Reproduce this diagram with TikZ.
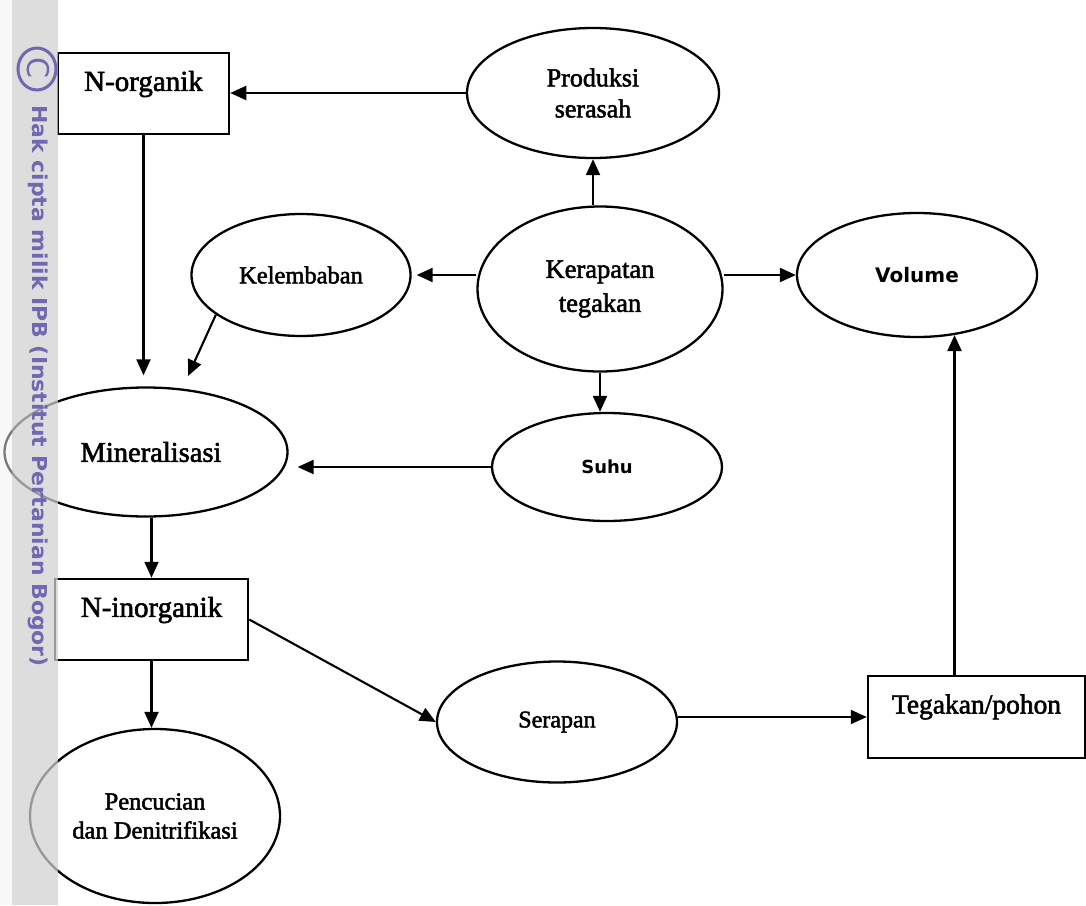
\documentclass[tikz,border=0pt]{standalone}
\usepackage{fontspec}
\usepackage{graphicx}
\setmainfont{Liberation Serif}
\newfontfamily\heavy{Liberation Serif}[FakeBold=2]
\newfontfamily\sansf{DejaVu Sans}
\definecolor{wm}{RGB}{112,104,178}
\usetikzlibrary{arrows.meta,shapes.geometric}
\newcommand\fsz[2]{\fontsize{#1pt}{#2pt}\selectfont}
\begin{document}
\begin{tikzpicture}[x=1pt,y=-1pt,
  ell/.style={draw, ellipse, line width=2.3pt, inner sep=0pt, align=center},
  boxst/.style={draw, rectangle, line width=2.5pt, inner sep=0pt},
  arr/.style={line width=2.1pt, -{Triangle[length=16pt,width=14pt]}},
  ]
\useasboundingbox (0,0) rectangle (1086,905);
\fill[white] (0,0) rectangle (1086,905);

% boxes
\node[boxst, minimum width=171pt, minimum height=81pt,
  label={[font=\heavy\fsz{29}{32}, yshift=9.5pt]center:N-organik}] (norg) at (143.5,93.5) {};
\node[boxst, minimum width=193pt, minimum height=81pt,
  label={[font=\heavy\fsz{29}{32}, yshift=9.5pt]center:N-inorganik}] (ninorg) at (151.5,619.5) {};
\node[boxst, minimum width=217pt, minimum height=82pt,
  label={[font=\heavy\fsz{27.5}{30}, yshift=10pt]center:Tegakan/pohon}] (teg) at (976.5,717) {};

% ellipses
\node[ell, minimum width=252pt, minimum height=130pt, font=\heavy\fsz{26}{31}] (prod) at (593,93) {Produksi\\serasah};
\node[ell, minimum width=245pt, minimum height=165pt, font=\heavy\fsz{26.5}{34}] (kerap) at (600,289) {Kerapatan\\tegakan};
\node[ell, minimum width=219pt, minimum height=122pt, font=\heavy\fsz{24.5}{28}] (kelem) at (301,275) {Kelembaban};
\node[ell, minimum width=240pt, minimum height=124pt, font=\sansf\bfseries\fsz{20}{24}] (vol) at (917,275) {Volume};
\node[ell, minimum width=230pt, minimum height=108pt, font=\sansf\bfseries\fsz{18}{22}] (suhu) at (607,467) {Suhu};
\node[ell, minimum width=283pt, minimum height=129pt, font=\heavy\fsz{28.5}{32}] (miner) at (146,452) {\hspace*{10pt}Mineralisasi};
\node[ell, minimum width=240pt, minimum height=121pt, font=\heavy\fsz{24}{28}] (serap) at (557,722) {Serapan};
\node[ell, minimum width=250pt, minimum height=174pt, font=\heavy\fsz{24.5}{29}] (pencu) at (155,816) {Pencucian\\dan Denitrifikasi};

% connectors
\coordinate (k2m) at (188,376);
\draw[arr] (prod.west) -- (prod.west -| norg.east);
\draw[arr] (prod.south |- kerap.north) -- (prod.south);
\draw[arr, shorten >=5pt] (kerap.west |- kelem.east) -- (kelem.east);
\draw[arr] (kerap.east |- vol.west) -- (vol.west);
\draw[arr] (kerap.south) -- (kerap.south |- suhu.north);
\draw[arr, shorten >=9pt] (suhu.west) -- (suhu.west -| miner.east);
\draw[arr, shorten >=11pt] (norg.south) -- (norg.south |- miner.north);
\draw[arr] (kelem.205) -- (k2m);
\draw[arr] (miner.south -| ninorg.north) -- (ninorg.north);
\draw[arr] (ninorg.south) -- (ninorg.south |- pencu.north);
\draw[arr] (ninorg.east) -- (serap.west);
\draw[arr] (teg.west -| serap.east) -- (teg.west);
\draw[arr] (teg.north -| vol.-58.6) -- (vol.-58.6);

% watermark strip
\fill[black!5, opacity=0.5] (0,0) rectangle (12,905);
\fill[black!18, opacity=0.73] (12,0) rectangle (58,905);
\draw[wm, line width=3pt] (37,69) ellipse[x radius=19pt, y radius=21pt];
\node[rotate=-90, text=wm, inner sep=0pt, font=\sansf\fsz{30}{34}] (wmc) at (38,68) {C};
\node[rotate=-90, anchor=base west, inner sep=0pt, text=wm, font=\sansf\bfseries\fsz{20.5}{25}] (wmtext) at (32,105)
  {\scalebox{1.07}[1]{Hak cipta milik IPB (Institut Pertanian Bogor)}};
\end{tikzpicture}
\end{document}
